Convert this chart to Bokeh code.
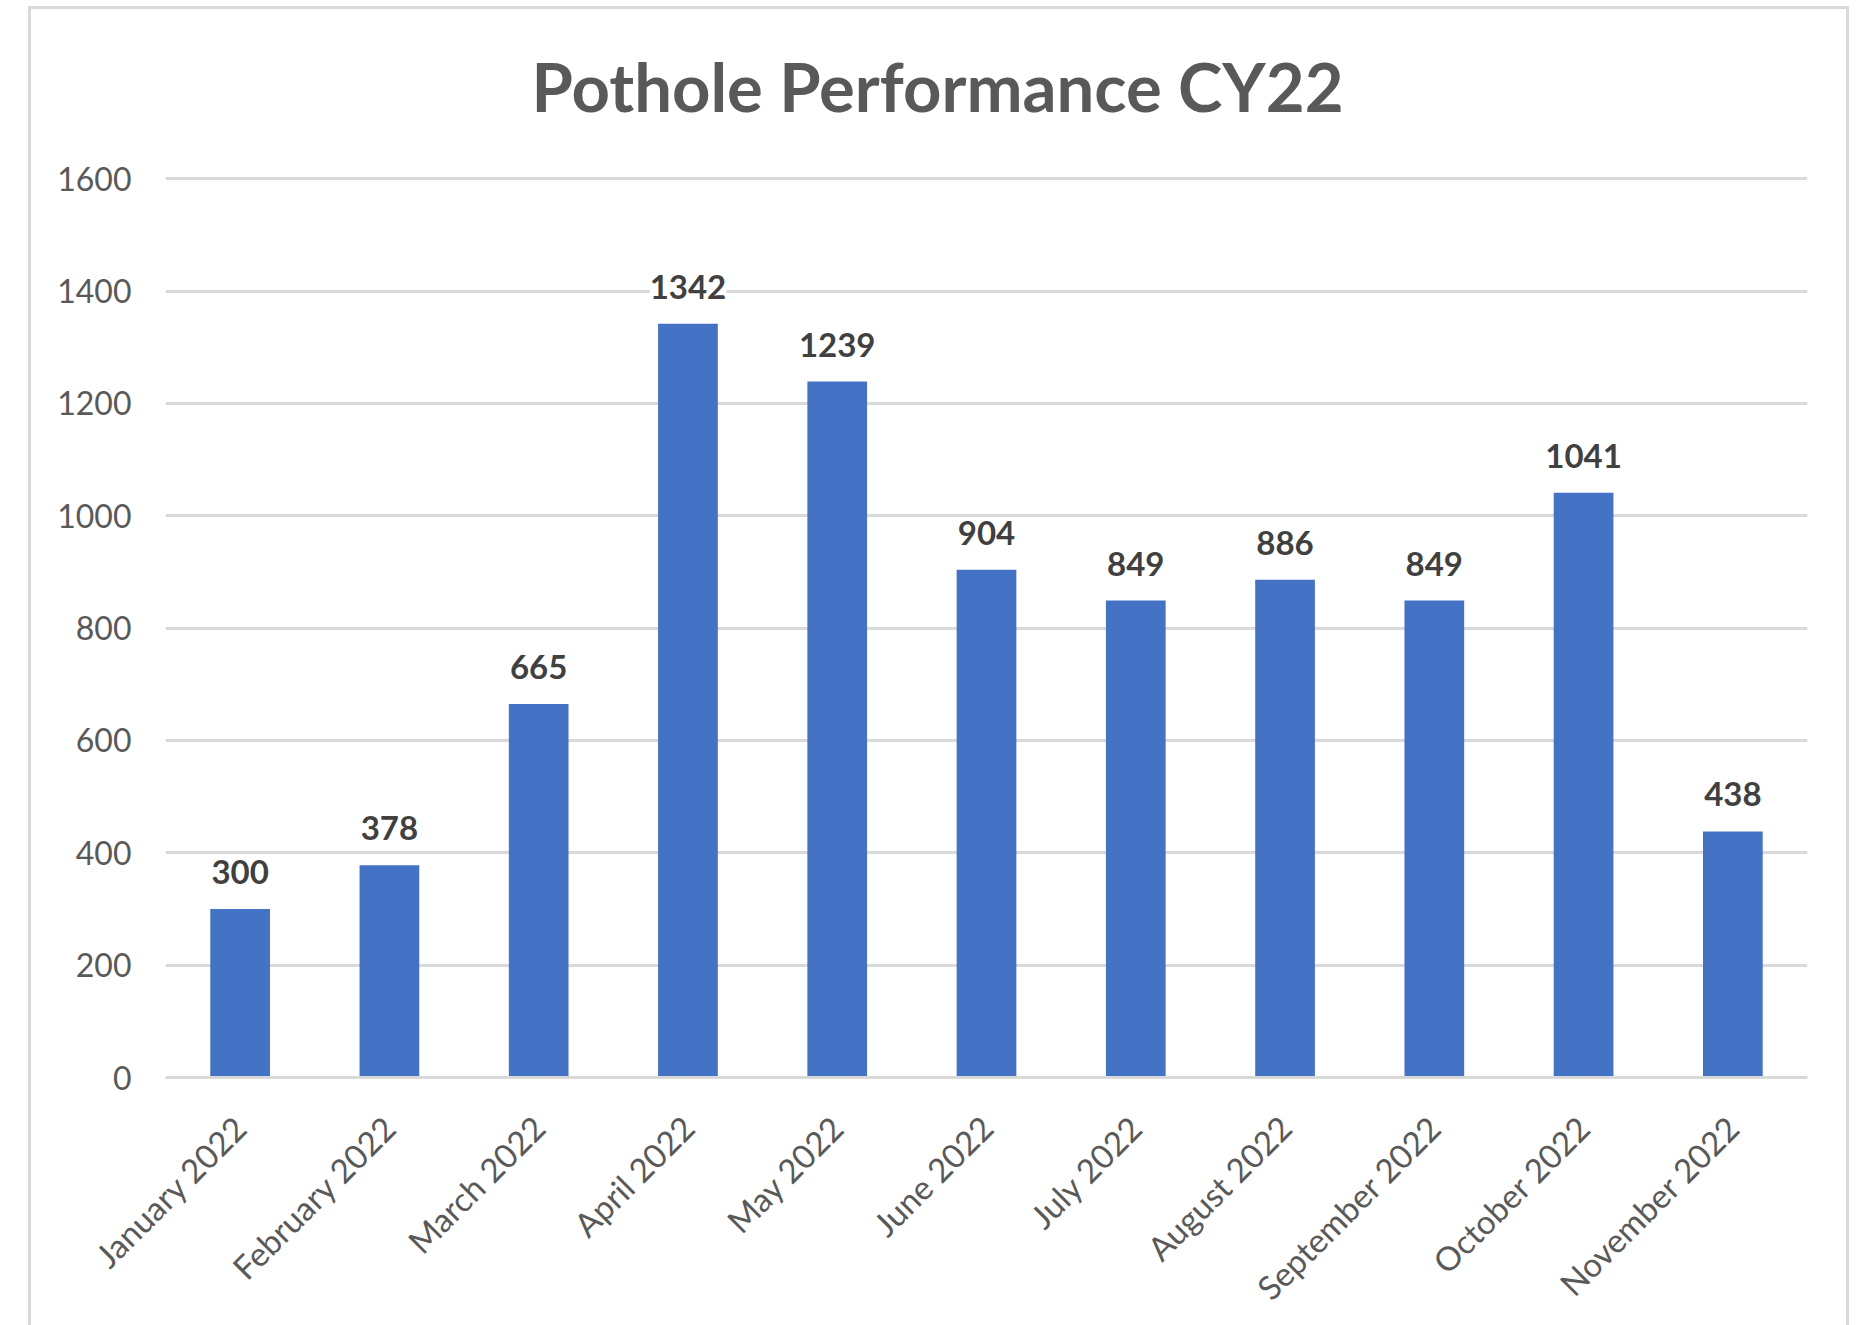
from bokeh.plotting import figure
from bokeh.models import ColumnDataSource, LabelSet, FixedTicker, Spacer, Title
from bokeh.layouts import row, column
from bokeh.core.properties import value
from bokeh.embed import file_html
from bokeh.resources import INLINE
import math

title_text = "Pothole Performance CY22"
months = ["January 2022", "February 2022", "March 2022", "April 2022", "May 2022",
          "June 2022", "July 2022", "August 2022", "September 2022", "October 2022",
          "November 2022"]
counts = [300, 378, 665, 1342, 1239, 904, 849, 886, 849, 1041, 438]
y_ticks = [0, 200, 400, 600, 800, 1000, 1200, 1400, 1600]

src = ColumnDataSource(dict(month=months, count=counts, label=[str(c) for c in counts]))

FONT = "Lato"
p = figure(x_range=months, y_range=(0, 1604), width=1821, height=1323,
           output_backend="svg", toolbar_location=None,
           min_border_left=134, min_border_right=45, min_border_top=167, min_border_bottom=255)

p.vbar(x="month", top="count", width=0.4, source=src, color="#4472C4", line_color=None)

labels = LabelSet(x="month", y="count", text="label", source=src, text_align="center",
                  text_baseline="alphabetic", y_offset=25, text_font=value(FONT),
                  text_font_style="bold", text_font_size="33px", text_color="#404040",
                  background_fill_color="white")
p.add_layout(labels)

p.title.text = title_text
p.title.align = "left"
p.title.offset = 366
p.title.standoff = 10
p.title.text_font = FONT
p.title.text_font_style = "bold"
p.title.text_font_size = "67px"
p.title.text_color = "#595959"

# blank title between the frame and the real title, to lift the title up
gap_title = Title(text=" ", text_font_size="1px", standoff=43)
p.add_layout(gap_title, "above")

p.yaxis.ticker = FixedTicker(ticks=y_ticks)
p.yaxis.axis_line_color = None
p.yaxis.major_tick_line_color = None
p.yaxis.minor_tick_line_color = None
p.yaxis.major_label_standoff = 28
p.yaxis.major_label_text_font = FONT
p.yaxis.major_label_text_font_size = "32px"
p.yaxis.major_label_text_color = "#595959"

p.xaxis.axis_line_color = "#d9d9d9"
p.xaxis.axis_line_width = 3
p.xaxis.major_tick_line_color = None
p.xaxis.minor_tick_line_color = None
p.xaxis.major_label_orientation = math.pi / 4
p.xaxis.major_label_standoff = 38
p.xaxis.major_label_text_font = FONT
p.xaxis.major_label_text_font_size = "33px"
p.xaxis.major_label_text_color = "#595959"

p.xgrid.grid_line_color = None
p.ygrid.grid_line_color = "#d9d9d9"
p.ygrid.grid_line_width = 3
p.outline_line_color = None
p.styles = {"border-left": "3px solid #d9d9d9", "border-top": "3px solid #d9d9d9",
            "border-right": "3px solid #d9d9d9"}

layout = column(Spacer(height=6), row(Spacer(width=28), p))
open("out.html", "w").write(file_html(layout, INLINE))
